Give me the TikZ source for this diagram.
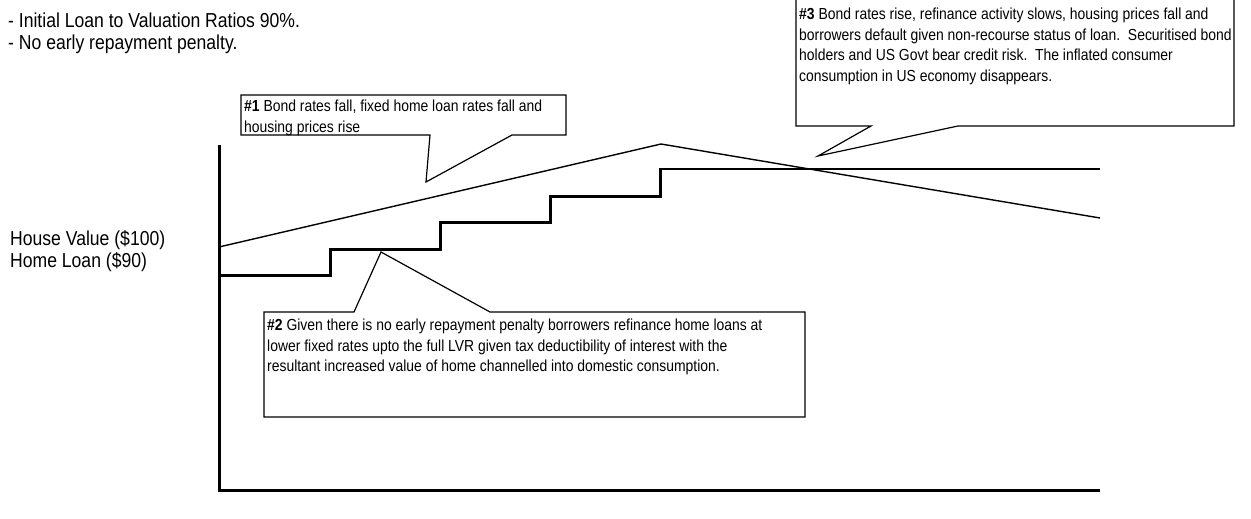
\documentclass[tikz,border=0pt]{standalone}
\usepackage{fontspec}
\setmainfont[FakeStretch=0.87]{Liberation Sans}
\usepackage{tikz}

\begin{document}
\begin{tikzpicture}[x=1pt, y=-1pt,
    every node/.style={inner sep=0pt, anchor=north west, align=left},
    sidetext/.style={font=\fontsize{20.2}{22}\selectfont},
    note/.style={font=\fontsize{16}{20.5}\selectfont},
    callout/.style={draw, line width=1.2pt, line join=miter},
    axis/.style={line width=3pt},
    homeloan/.style={line width=3pt, line join=miter},
    housevalue/.style={line width=1.4pt, line join=miter}
]
\useasboundingbox (0,0) rectangle (1251,519);

% assumptions and axis labels
\node[sidetext] (assume) at (8,13) {- Initial Loan to Valuation Ratios 90\%.\\- No early repayment penalty.};
\node[sidetext] (start) at (10,230) {House Value (\$100)\\Home Loan (\$90)};

% axes
\coordinate (top) at (219,145);
\coordinate (origin) at (219,490);
\coordinate (xend) at (1100,490);
\draw[axis] (top) -- (origin) -- (xend);

% house value and home loan
\coordinate (hv0) at (219,247);
\coordinate (peak) at (661,144);
\coordinate (hvend) at (1100,218);
\draw[housevalue] (hv0) -- (peak) -- (hvend);
\draw[homeloan] (219,275) -| (330,249) -| (440,222) -| (550,196) -| (660,169);
\draw[line width=1.6pt] (658.5,169) -- (1100,169);

% callout #1
\draw[callout] (241,95) -- (566,95) -- (566,135) -- (512,135) -- (426,182)
    -- (430,135) -- (241,135) -- cycle;
\node[note] (one) at (244,100) {\textbf{\#1} Bond rates fall, fixed home loan rates fall and\\housing prices rise};

% callout #2
\draw[callout] (264,312) -- (354,312) -- (381,252) -- (490,312) -- (805,312)
    -- (805,417) -- (264,417) -- cycle;
\node[note] (two) at (267,319) {\textbf{\#2} Given there is no early repayment penalty borrowers refinance home loans at\\lower fixed rates upto the full LVR given tax deductibility of interest with the\\resultant increased value of home channelled into domestic consumption.};

% callout #3
\draw[callout] (796,-2) -- (1234,-2) -- (1234,126) -- (958,126) -- (818,156)
    -- (871,126) -- (796,126) -- cycle;
\node[note] (three) at (799,8) {\textbf{\#3} Bond rates rise, refinance activity slows, housing prices fall and\\borrowers default given non-recourse status of loan.\ \ Securitised bond\\holders and US Govt bear credit risk.\ \ The inflated consumer\\consumption in US economy disappears.};
\end{tikzpicture}
\end{document}
